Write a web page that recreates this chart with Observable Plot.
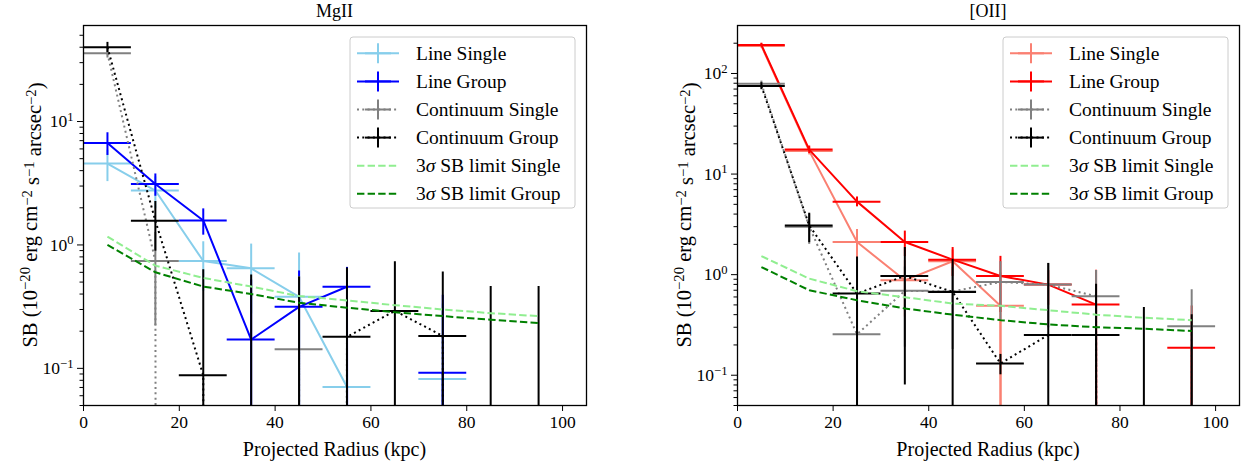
<!DOCTYPE html>
<html><head><meta charset="utf-8">
<script src="https://cdn.jsdelivr.net/npm/d3@7"></script>
<script src="https://cdn.jsdelivr.net/npm/@observablehq/plot@0.6"></script>
<style>
body{margin:0;background:#fff;}
#wrap{position:relative;width:1241px;height:466px;overflow:hidden;}
#wrap > svg{position:absolute;top:0;}
</style></head><body><div id="wrap"></div>
<script>
// ---------- data ----------
const radius = [5, 15, 25, 35, 45, 55, 65, 75, 85, 95];   // kpc, bin centres
const radiusHalfWidth = 5;                                // kpc, x error

// MgII panel (SB in 1e-20 erg/cm2/s/arcsec2); negative = non-detection, null = missing
const mgLineSingle      = [4.56, 2.76, 0.741, 0.646, 0.38, 0.0705, -0.15, 0.082, null, null];
const mgLineSingleErr   = [1.3, 0.8, 0.32, 0.37, 0.48, 0.3, 0.1, 0.25, null, null];
const mgLineGroup       = [6.71, 3.12, 1.58, 0.171, 0.315, 0.458, -0.2, 0.092, null, null];
const mgLineGroupErr    = [1.4, 0.64, 0.38, 0.35, 0.3, 0.2, 0.1, 0.3, null, null];
const mgContSingle      = [35.7, 0.741, -0.3, -0.3, 0.143, -0.3, null, null, null, null];
const mgContSingleErr   = [3.0, 0.52, 0.1, 0.1, 0.41, 0.1, null, null, null, null];
const mgContGroup       = [40.0, 1.57, 0.088, -0.2, -0.2, 0.18, 0.292, 0.183, -0.2, -0.2];
const mgContGroupErr    = [3.8, 0.68, 0.54, 0.77, 0.75, 0.47, 0.44, 0.42, 0.66, 0.66];
const mgLimitSingle     = [1.17, 0.68, 0.54, 0.46, 0.385, 0.355, 0.325, 0.30, 0.28, 0.265];
const mgLimitGroup      = [1.0, 0.6, 0.46, 0.40, 0.34, 0.31, 0.285, 0.265, 0.248, 0.233];

// [OII] panel
const oiiLineSingle     = [188, 17.0, 2.11, 0.878, 1.36, 0.49, -0.3, null, null, null];
const oiiLineSingleErr  = [10, 1.5, 0.7, 0.5, 0.4, 0.55, 0.2, null, null, null];
const oiiLineGroup      = [192, 17.5, 5.32, 2.11, 1.41, 0.97, 0.796, 0.504, -0.3, 0.188];
const oiiLineGroupErr   = [8, 1.5, 0.6, 0.6, 0.45, 0.55, 0.3, 0.6, 0.2, 0.3];
const oiiContSingle     = [79, 3.0, 0.255, 0.69, 0.68, 0.846, 0.796, 0.61, -0.3, 0.307];
const oiiContSingleErr  = [5, 1.0, 0.3, 0.5, 0.5, 0.5, 0.5, 0.49, 0.1, 0.4];
const oiiContGroup      = [75, 3.08, 0.648, 0.97, 0.674, 0.131, 0.251, 0.251, -0.3, -0.3];
const oiiContGroupErr   = [6, 1.0, 0.85, 0.89, 0.75, 0.03, 1.04, 0.55, 0.77, 0.7];
const oiiLimitSingle    = [1.53, 0.913, 0.684, 0.596, 0.516, 0.49, 0.443, 0.40, 0.373, 0.353];
const oiiLimitGroup     = [1.19, 0.70, 0.557, 0.461, 0.40, 0.353, 0.32, 0.30, 0.29, 0.275];

// ticks and labels
const xTicks = [0, 20, 40, 60, 80, 100];
const mgMajorTicks = [0.1, 1, 10];
const mgMinorTicks = [0.05,0.06,0.07,0.08,0.09,0.2,0.3,0.4,0.5,0.6,0.7,0.8,0.9,2,3,4,5,6,7,8,9,20,30,40,50];
const oiiMajorTicks = [0.1, 1, 10, 100];
const oiiMinorTicks = [0.05,0.06,0.07,0.08,0.09,0.2,0.3,0.4,0.5,0.6,0.7,0.8,0.9,2,3,4,5,6,7,8,9,20,30,40,50,60,70,80,90,200];
const legendLabels = ["Line Single", "Line Group", "Continuum Single", "Continuum Group", "3σ SB limit Single", "3σ SB limit Group"];
const xLabel = "Projected Radius (kpc)";

// ---------- drawing ----------
const FONT = "'Liberation Serif', 'DejaVu Serif', serif";
const DOT = "2,3.3", DASH = "7.4,3.2";
const logClip = v => (v == null ? NaN : (v > 0 ? v : 1e-300)); // like matplotlib nonpositive='clip'

function rowsOf(vals, errs) {
  return radius.map((r, i) => ({x: r, y: vals[i], e: errs ? errs[i] : null}));
}

function seriesMarks(vals, errs, color, dash) {
  const rows = rowsOf(vals, errs);
  const valid = rows.filter(d => d.y != null);
  return [
    Plot.line(rows, {x: "x", y: d => logClip(d.y), stroke: color, strokeWidth: 2,
      strokeDasharray: dash, strokeLinecap: "butt", strokeLinejoin: "round", clip: true}),
    Plot.ruleX(valid, {x: "x", y1: d => logClip(d.y - d.e), y2: d => logClip(d.y + d.e),
      stroke: color, strokeWidth: 2, clip: true}),
    Plot.ruleY(valid.filter(d => d.y > 0), {y: "y", x1: d => d.x - radiusHalfWidth,
      x2: d => d.x + radiusHalfWidth, stroke: color, strokeWidth: 2, clip: true})
  ];
}

function limitMark(vals, color) {
  return Plot.line(rowsOf(vals, null), {x: "x", y: "y", stroke: color, strokeWidth: 2,
    strokeDasharray: DASH, strokeLinecap: "butt", clip: true});
}

function supText(sel, base, sup) {
  sel.append("tspan").text(base);
  sel.append("tspan").attr("dy", "-0.5em").attr("font-size", "0.72em").text(sup);
}

function panel(cfg) {
  const marks = [];
  cfg.series.forEach(s => marks.push(...seriesMarks(s.v, s.e, s.color, s.dash)));
  cfg.limits.forEach(l => marks.push(limitMark(l.v, l.color)));
  marks.push(Plot.frame({stroke: "black", strokeWidth: 1.3}));
  marks.push(Plot.axisX({ticks: xTicks, tickSize: 6, tickPadding: 4, label: null, tickFormat: d => String(d)}));
  marks.push(Plot.axisY({ticks: cfg.minor, tickSize: 3.5, label: null, tickFormat: () => ""}));
  marks.push(Plot.axisY({ticks: cfg.major, tickSize: 6, tickPadding: 4, label: null,
    tickFormat: d => "10^" + Math.round(Math.log10(d))}));

  const svg = Plot.plot({
    width: cfg.width, height: 466,
    marginLeft: cfg.mLeft, marginRight: cfg.mRight, marginTop: 25, marginBottom: 61,
    x: {domain: [0, 105]},
    y: {type: "log", domain: cfg.domainY},
    style: {fontFamily: FONT, fontSize: "17.5px", color: "black", background: "white", overflow: "visible"},
    marks
  });
  svg.style.left = cfg.left + "px";
  const s = d3.select(svg);

  // superscript tick labels
  s.selectAll("text").each(function () {
    const m = /^10\^(-?\d+)$/.exec(this.textContent);
    if (m) {
      const t = d3.select(this);
      t.text(null);
      supText(t, "10", m[1].replace("-", "\u2212"));
    }
  });

  const cx = (cfg.mLeft + cfg.width - cfg.mRight) / 2;
  // title
  s.append("text").attr("x", cx).attr("y", 17).attr("text-anchor", "middle")
    .attr("font-family", FONT).attr("font-size", 18).text(cfg.title);
  // x label
  s.append("text").attr("x", cx).attr("y", 456).attr("text-anchor", "middle")
    .attr("font-family", FONT).attr("font-size", 20).text(xLabel);
  // y label
  const yl = s.append("text").attr("transform", `translate(${cfg.mLeft - 46},215) rotate(-90)`)
    .attr("text-anchor", "middle").attr("font-family", FONT).attr("font-size", 20.5);
  yl.append("tspan").text("SB (10");
  yl.append("tspan").attr("dy", "-0.5em").attr("font-size", "0.72em").text("\u221220");
  yl.append("tspan").attr("dy", "0.36em").text(" erg cm");
  yl.append("tspan").attr("dy", "-0.36em").attr("font-size", "0.72em").text("\u22122");
  yl.append("tspan").attr("dy", "0.36em").text(" s");
  yl.append("tspan").attr("dy", "-0.36em").attr("font-size", "0.72em").text("\u22121");
  yl.append("tspan").attr("dy", "0.36em").text(" arcsec");
  yl.append("tspan").attr("dy", "-0.36em").attr("font-size", "0.72em").text("\u22122");
  yl.append("tspan").attr("dy", "0.36em").text(")");

  // legend
  const bx = cfg.legendX, by = 37, bw = 225, bh = 171;
  const g = s.append("g").attr("text-anchor", "start");
  g.append("rect").attr("x", bx).attr("y", by).attr("width", bw).attr("height", bh)
    .attr("rx", 3).attr("fill", "white").attr("fill-opacity", 0.8)
    .attr("stroke", "#cccccc").attr("stroke-width", 1);
  const entries = [
    ...cfg.series.map(s0 => ({color: s0.color, dash: s0.dash, err: true})),
    ...cfg.limits.map(l => ({color: l.color, dash: DASH, err: false}))
  ];
  entries.forEach((en, i) => {
    const yy = 53.3 + i * 28.1;
    const h0 = bx + 7, h1 = bx + 49, hc = (h0 + h1) / 2;
    g.append("line").attr("x1", h0).attr("x2", h1).attr("y1", yy).attr("y2", yy)
      .attr("stroke", en.color).attr("stroke-width", 2)
      .attr("stroke-dasharray", en.dash || null);
    if (en.err) {
      g.append("line").attr("x1", hc - 13).attr("x2", hc + 13).attr("y1", yy).attr("y2", yy)
        .attr("stroke", en.color).attr("stroke-width", 2);
      g.append("line").attr("x1", hc).attr("x2", hc).attr("y1", yy - 10).attr("y2", yy + 10)
        .attr("stroke", en.color).attr("stroke-width", 2);
    }
    const t = g.append("text").attr("x", bx + 66).attr("y", yy + 6.5)
      .attr("text-anchor", "start")
      .attr("font-family", FONT).attr("font-size", 19.5);
    const lab = legendLabels[i];
    if (lab.startsWith("3σ")) {
      t.append("tspan").text("3");
      t.append("tspan").attr("font-style", "italic").text("σ");
      t.append("tspan").text(lab.slice(2));
    } else t.text(lab);
  });
  return svg;
}

const wrap = document.getElementById("wrap");
wrap.appendChild(panel({
  title: "MgII", left: 0, width: 620, mLeft: 83, mRight: 34,
  domainY: [0.05, 60], major: mgMajorTicks, minor: mgMinorTicks, legendX: 350,
  series: [
    {v: mgLineSingle, e: mgLineSingleErr, color: "#87ceeb", dash: null},
    {v: mgLineGroup, e: mgLineGroupErr, color: "#0000ff", dash: null},
    {v: mgContSingle, e: mgContSingleErr, color: "#808080", dash: DOT},
    {v: mgContGroup, e: mgContGroupErr, color: "#000000", dash: DOT}
  ],
  limits: [{v: mgLimitSingle, color: "#90ee90"}, {v: mgLimitGroup, color: "#008000"}]
}));
wrap.appendChild(panel({
  title: "[OII]", left: 620, width: 621, mLeft: 117, mRight: 2,
  domainY: [0.05, 300], major: oiiMajorTicks, minor: oiiMinorTicks, legendX: 383,
  series: [
    {v: oiiLineSingle, e: oiiLineSingleErr, color: "#fa8072", dash: null},
    {v: oiiLineGroup, e: oiiLineGroupErr, color: "#ff0000", dash: null},
    {v: oiiContSingle, e: oiiContSingleErr, color: "#808080", dash: DOT},
    {v: oiiContGroup, e: oiiContGroupErr, color: "#000000", dash: DOT}
  ],
  limits: [{v: oiiLimitSingle, color: "#90ee90"}, {v: oiiLimitGroup, color: "#008000"}]
}));
</script></body></html>
